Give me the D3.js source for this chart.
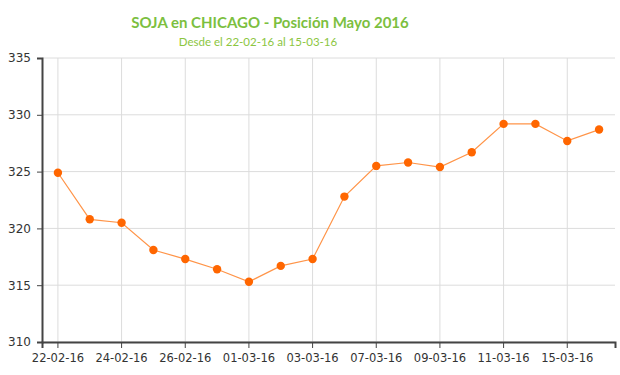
<!DOCTYPE html>
<html lang="es">
<head>
    <meta charset="utf-8">
    <title>SOJA en CHICAGO</title>
    <style>
        body { margin: 0; background: #fff; }
        .chart text { font-family: "DejaVu Sans", Verdana, sans-serif; fill: #333; }
        .chart .title { font-family: Lato, "Open Sans", sans-serif; font-weight: bold; fill: #7cbf3f; }
        .chart .subtitle { font-family: Lato, "Open Sans", sans-serif; fill: #8cc63f; }
        .chart .grid line { stroke: #dcdcdc; stroke-width: 1; }
        .chart .domain { stroke: #444; stroke-width: 2; }
        .chart .tick line { stroke: #444; }
    </style>
</head>
<body>
<div id="chart"></div>
<script src="https://d3js.org/d3.v7.min.js"></script>
<script>
    var fechas = ["22-02-16", "23-02-16", "24-02-16", "25-02-16", "26-02-16", "29-02-16",
        "01-03-16", "02-03-16", "03-03-16", "04-03-16", "07-03-16", "08-03-16",
        "09-03-16", "10-03-16", "11-03-16", "14-03-16", "15-03-16", "16-03-16"];
    var precios = [324.9, 320.8, 320.5, 318.1, 317.3, 316.4, 315.3, 316.7, 317.3,
        322.8, 325.5, 325.8, 325.4, 326.7, 329.2, 329.2, 327.7, 328.7];
    var yTicks = [310, 315, 320, 325, 330, 335];
    var titulo = "SOJA en CHICAGO - Posición Mayo 2016";
    var subtitulo = "Desde el 22-02-16 al 15-03-16";

    var width = 620, height = 375;
    var margin = {top: 58, right: 5, bottom: 33, left: 42};
    var w = width - margin.left - margin.right, h = height - margin.top - margin.bottom;

    var svg = d3.select("#chart").append("svg")
        .attr("class", "chart")
        .attr("width", width)
        .attr("height", height);

    svg.append("text").attr("class", "title")
        .attr("x", 270).attr("y", 28)
        .attr("text-anchor", "middle")
        .style("font-size", "15px")
        .text(titulo);
    svg.append("text").attr("class", "subtitle")
        .attr("x", 258).attr("y", 46)
        .attr("text-anchor", "middle")
        .style("font-size", "11.5px")
        .text(subtitulo);

    var g = svg.append("g").attr("transform", "translate(" + margin.left + "," + margin.top + ")");

    var x = d3.scaleBand().domain(fechas).range([0, w]);
    var y = d3.scaleLinear().domain([310, 335]).range([h, 0]);
    var cx = function (d) { return x(d) + x.bandwidth() / 2; };
    var labelled = fechas.filter(function (d, i) { return i % 2 === 0; });

    // grid
    var grid = g.append("g").attr("class", "grid");
    grid.selectAll(".h").data(yTicks).enter().append("line")
        .attr("x1", 0).attr("x2", w)
        .attr("y1", function (d) { return y(d); }).attr("y2", function (d) { return y(d); });
    grid.selectAll(".v").data(labelled).enter().append("line")
        .attr("x1", cx).attr("x2", cx)
        .attr("y1", 0).attr("y2", h);

    // axes
    var xAxis = d3.axisBottom(x).tickValues(labelled).tickSize(6).tickPadding(6);
    g.append("g").attr("transform", "translate(0," + h + ")").call(xAxis)
        .selectAll("text").style("font-size", "11.5px");
    var yAxis = d3.axisLeft(y).tickValues(yTicks).tickSize(5).tickPadding(6);
    g.append("g").call(yAxis)
        .selectAll("text").style("font-size", "12px");

    // line + markers
    var line = d3.line()
        .x(function (d, i) { return cx(fechas[i]); })
        .y(function (d) { return y(d); });
    g.append("path").datum(precios)
        .attr("fill", "none")
        .attr("stroke", "#ff9448")
        .attr("stroke-width", 1.2)
        .attr("d", line);
    g.selectAll(".pt").data(precios).enter().append("circle")
        .attr("cx", function (d, i) { return cx(fechas[i]); })
        .attr("cy", function (d) { return y(d); })
        .attr("r", 4.2)
        .attr("fill", "#ff6600");
</script>
</body>
</html>
